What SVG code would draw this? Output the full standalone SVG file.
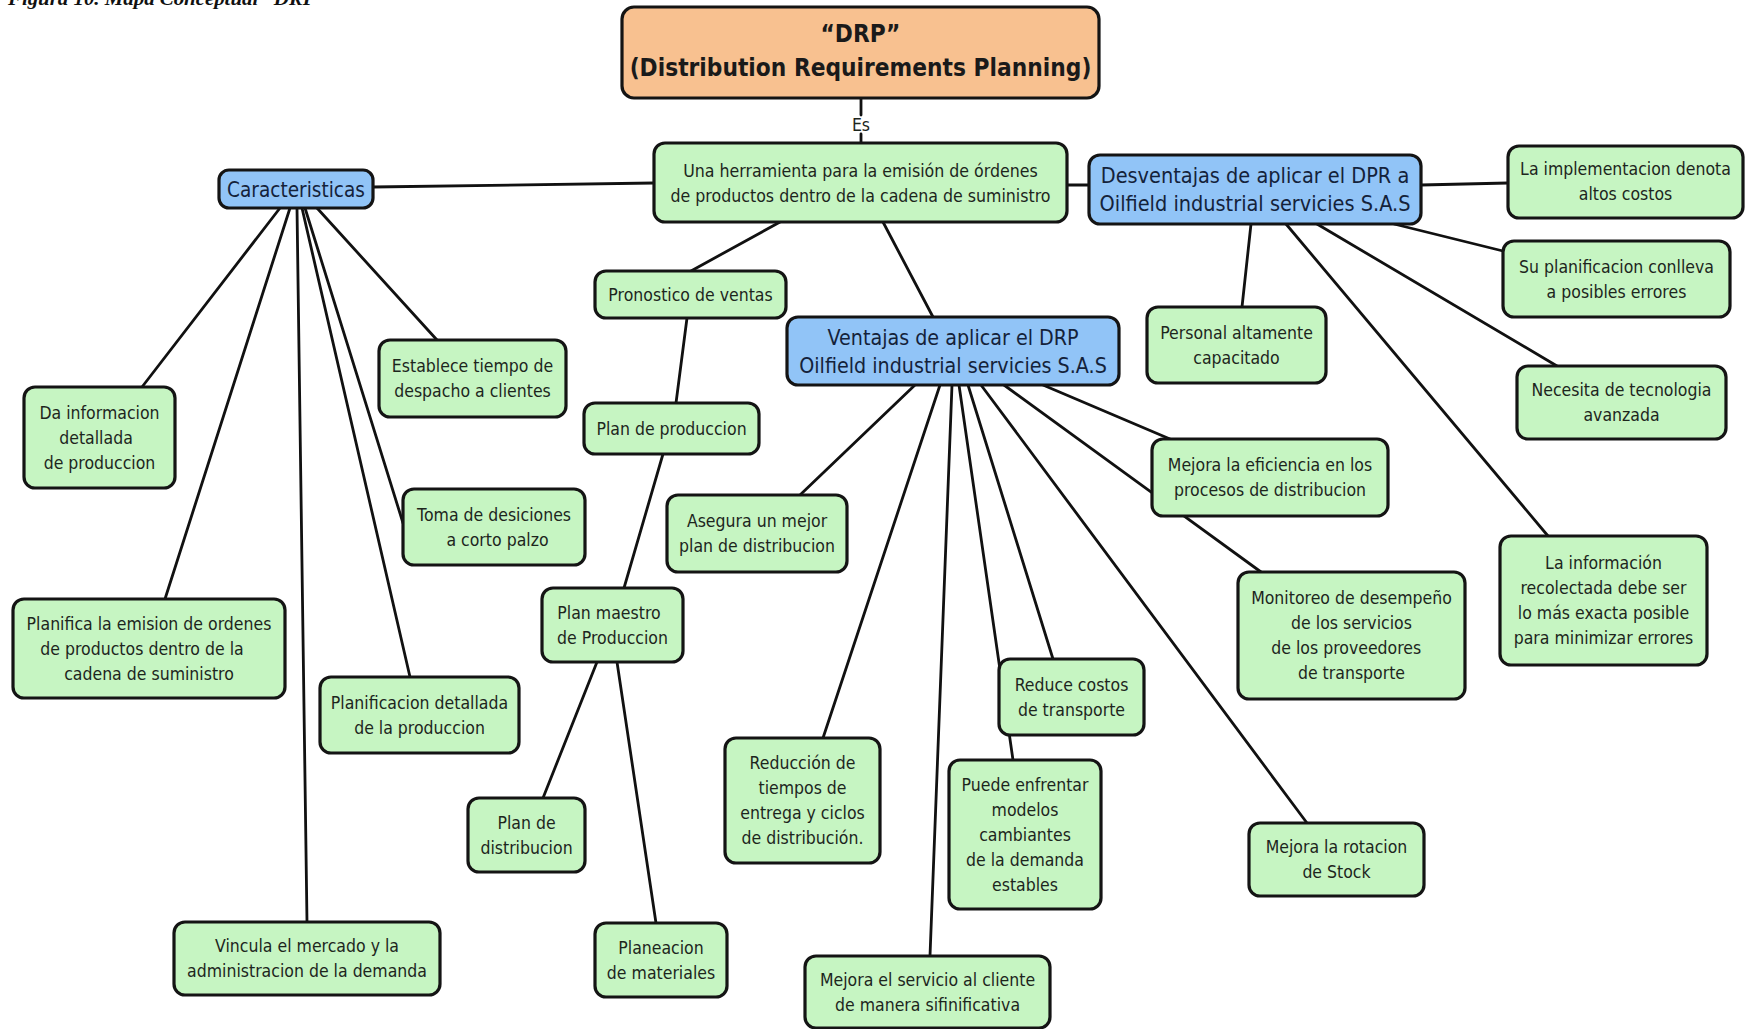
<svg xmlns="http://www.w3.org/2000/svg" width="1747" height="1029" viewBox="0 0 1747 1029">
  <style>
    .box { stroke: #141414; stroke-width: 3.2; }
    .g { fill: #c6f5c2; }
    .b { fill: #91c4f7; }
    .o { fill: #f8c190; }
    .t { font-family: "DejaVu Sans", "Liberation Sans", sans-serif; font-size: 18px; fill: #1d261d; text-anchor: middle; }
    .tb { font-size: 21.5px; fill: #14223a; }
    .title { font-family: "DejaVu Sans", "Liberation Sans", sans-serif; font-weight: bold; font-size: 25.5px; fill: #1a1a1a; text-anchor: middle; }
    .cap { font-family: "Liberation Serif", serif; font-weight: bold; font-style: italic; font-size: 19px; fill: #111; }
    #edges line { stroke: #111; stroke-width: 2.8; stroke-linecap: round; }
  </style>

  <!-- figure caption, clipped at the top edge -->
  <text class="cap" x="8" y="5" textLength="318" lengthAdjust="spacingAndGlyphs">Figura 10. Mapa Conceptual “DRP”</text>

  <g id="edges">
    <!-- DRP -> Una herramienta (label "Es") -->
    <line x1="861" y1="98" x2="861" y2="115"/>
    <line x1="861" y1="134" x2="861" y2="143"/>
    <line x1="373" y1="187" x2="654" y2="183"/>
    <line x1="1067" y1="185" x2="1089" y2="185"/>
    <line x1="780" y1="222" x2="691" y2="271"/>
    <line x1="883" y1="222" x2="933" y2="317"/>
    <!-- Desventajas -->
    <line x1="1421" y1="185" x2="1508" y2="183"/>
    <line x1="1394" y1="224" x2="1503" y2="251"/>
    <line x1="1251" y1="224" x2="1242" y2="307"/>
    <line x1="1286" y1="224" x2="1548" y2="536"/>
    <line x1="1317" y1="224" x2="1557" y2="366"/>
    <!-- production chain -->
    <line x1="687" y1="318" x2="676" y2="403"/>
    <line x1="663" y1="454" x2="624" y2="588"/>
    <line x1="597" y1="662" x2="543" y2="798"/>
    <line x1="617" y1="662" x2="656" y2="923"/>
    <!-- Caracteristicas -->
    <line x1="280" y1="208" x2="142" y2="387"/>
    <line x1="290" y1="208" x2="165" y2="599"/>
    <line x1="297" y1="208" x2="307" y2="922"/>
    <line x1="302" y1="208" x2="410" y2="677"/>
    <line x1="305" y1="208" x2="403" y2="523"/>
    <line x1="317" y1="208" x2="437" y2="340"/>
    <!-- Ventajas -->
    <line x1="915" y1="385" x2="800" y2="495"/>
    <line x1="940" y1="385" x2="823" y2="738"/>
    <line x1="952" y1="385" x2="930" y2="956"/>
    <line x1="959" y1="385" x2="1013" y2="760"/>
    <line x1="968" y1="385" x2="1053" y2="659"/>
    <line x1="981" y1="385" x2="1307" y2="823"/>
    <line x1="1004" y1="385" x2="1261" y2="572"/>
    <line x1="1043" y1="385" x2="1170" y2="439"/>
  </g>
  <text class="t" transform="translate(861 0) scale(0.875 1)"><tspan x="0" y="131">Es</tspan></text>

  <g id="n-drp">
    <rect class="box o" x="622" y="7" width="477" height="91" rx="12"/>
    <text class="title" transform="translate(860.5 0) scale(0.855 1)"><tspan x="0" y="42">“DRP”</tspan><tspan x="0" y="76">(Distribution Requirements Planning)</tspan></text>
  </g>
  <g id="n-herramienta">
    <rect class="box g" x="654" y="143" width="413" height="79" rx="11"/>
    <text class="t" transform="translate(860.5 0) scale(0.88 1)"><tspan x="0" y="177">Una herramienta para la emisión de órdenes</tspan><tspan x="0" y="202">de productos dentro de la cadena de suministro</tspan></text>
  </g>
  <g id="n-caracteristicas">
    <rect class="box b" x="219" y="170" width="154" height="38" rx="10"/>
    <text class="t tb" transform="translate(296 0) scale(0.86 1)"><tspan x="0" y="197">Caracteristicas</tspan></text>
  </g>
  <g id="n-desventajas">
    <rect class="box b" x="1089" y="155" width="332" height="69" rx="11"/>
    <text class="t tb" transform="translate(1255 0) scale(0.9 1)"><tspan x="0" y="183">Desventajas de aplicar el DPR a</tspan><tspan x="0" y="211">Oilfield industrial servicies S.A.S</tspan></text>
  </g>
  <g id="n-implementacion">
    <rect class="box g" x="1508" y="146" width="235" height="72" rx="11"/>
    <text class="t" transform="translate(1625.5 0) scale(0.875 1)"><tspan x="0" y="175.5">La implementacion denota</tspan><tspan x="0" y="200.5">altos costos</tspan></text>
  </g>
  <g id="n-planificacion-errores">
    <rect class="box g" x="1503" y="241" width="227" height="76" rx="11"/>
    <text class="t" transform="translate(1616.5 0) scale(0.875 1)"><tspan x="0" y="273">Su planificacion conlleva</tspan><tspan x="0" y="298">a posibles errores</tspan></text>
  </g>
  <g id="n-personal">
    <rect class="box g" x="1147" y="307" width="179" height="76" rx="11"/>
    <text class="t" transform="translate(1236.5 0) scale(0.875 1)"><tspan x="0" y="339">Personal altamente</tspan><tspan x="0" y="364">capacitado</tspan></text>
  </g>
  <g id="n-tecnologia">
    <rect class="box g" x="1517" y="366" width="209" height="73" rx="11"/>
    <text class="t" transform="translate(1621.5 0) scale(0.875 1)"><tspan x="0" y="396.5">Necesita de tecnologia</tspan><tspan x="0" y="421.5">avanzada</tspan></text>
  </g>
  <g id="n-informacion">
    <rect class="box g" x="1500" y="536" width="207" height="129" rx="11"/>
    <text class="t" transform="translate(1603.5 0) scale(0.875 1)"><tspan x="0" y="569.5">La información</tspan><tspan x="0" y="594.5">recolectada debe ser</tspan><tspan x="0" y="619.5">lo más exacta posible</tspan><tspan x="0" y="644.5">para minimizar errores</tspan></text>
  </g>
  <g id="n-ventajas">
    <rect class="box b" x="787" y="317" width="332" height="68" rx="11"/>
    <text class="t tb" transform="translate(953 0) scale(0.89 1)"><tspan x="0" y="345">Ventajas de aplicar el DRP</tspan><tspan x="0" y="373">Oilfield industrial servicies S.A.S</tspan></text>
  </g>
  <g id="n-pronostico">
    <rect class="box g" x="595" y="271" width="191" height="47" rx="11"/>
    <text class="t" transform="translate(690.5 0) scale(0.875 1)"><tspan x="0" y="301">Pronostico de ventas</tspan></text>
  </g>
  <g id="n-establece">
    <rect class="box g" x="379" y="340" width="187" height="77" rx="11"/>
    <text class="t" transform="translate(472.5 0) scale(0.875 1)"><tspan x="0" y="372.5">Establece tiempo de</tspan><tspan x="0" y="397.5">despacho a clientes</tspan></text>
  </g>
  <g id="n-da-informacion">
    <rect class="box g" x="24" y="387" width="151" height="101" rx="11"/>
    <text class="t" transform="translate(99.5 0) scale(0.875 1)"><tspan x="0" y="419">Da informacion</tspan><tspan x="-4" y="444">detallada</tspan><tspan x="0" y="469">de produccion</tspan></text>
  </g>
  <g id="n-plan-produccion">
    <rect class="box g" x="584" y="403" width="175" height="51" rx="11"/>
    <text class="t" transform="translate(671.5 0) scale(0.875 1)"><tspan x="0" y="435">Plan de produccion</tspan></text>
  </g>
  <g id="n-toma">
    <rect class="box g" x="403" y="489" width="182" height="76" rx="11"/>
    <text class="t" transform="translate(494 0) scale(0.875 1)"><tspan x="0" y="521">Toma de desiciones</tspan><tspan x="4" y="546">a corto palzo</tspan></text>
  </g>
  <g id="n-asegura">
    <rect class="box g" x="667" y="495" width="180" height="77" rx="11"/>
    <text class="t" transform="translate(757 0) scale(0.875 1)"><tspan x="0" y="527.5">Asegura un mejor</tspan><tspan x="0" y="552.5">plan de distribucion</tspan></text>
  </g>
  <g id="n-eficiencia">
    <rect class="box g" x="1152" y="439" width="236" height="77" rx="11"/>
    <text class="t" transform="translate(1270 0) scale(0.875 1)"><tspan x="0" y="471.5">Mejora la eficiencia en los</tspan><tspan x="0" y="496.5">procesos de distribucion</tspan></text>
  </g>
  <g id="n-monitoreo">
    <rect class="box g" x="1238" y="572" width="227" height="127" rx="11"/>
    <text class="t" transform="translate(1351.5 0) scale(0.875 1)"><tspan x="0" y="604.5">Monitoreo de desempeño</tspan><tspan x="0" y="629.5">de los servicios</tspan><tspan x="-6" y="654.5">de los proveedores</tspan><tspan x="0" y="679.5">de transporte</tspan></text>
  </g>
  <g id="n-planifica">
    <rect class="box g" x="13" y="599" width="272" height="99" rx="11"/>
    <text class="t" transform="translate(149 0) scale(0.875 1)"><tspan x="0" y="630">Planifica la emision de ordenes</tspan><tspan x="-8" y="655">de productos dentro de la</tspan><tspan x="0" y="680">cadena de suministro</tspan></text>
  </g>
  <g id="n-plan-maestro">
    <rect class="box g" x="542" y="588" width="141" height="74" rx="11"/>
    <text class="t" transform="translate(612.5 0) scale(0.875 1)"><tspan x="-4" y="619">Plan maestro</tspan><tspan x="0" y="644">de Produccion</tspan></text>
  </g>
  <g id="n-planificacion-detallada">
    <rect class="box g" x="320" y="677" width="199" height="76" rx="11"/>
    <text class="t" transform="translate(419.5 0) scale(0.875 1)"><tspan x="0" y="709">Planificacion detallada</tspan><tspan x="0" y="734">de la produccion</tspan></text>
  </g>
  <g id="n-reduce-costos">
    <rect class="box g" x="999" y="659" width="145" height="76" rx="11"/>
    <text class="t" transform="translate(1071.5 0) scale(0.875 1)"><tspan x="0" y="691">Reduce costos</tspan><tspan x="0" y="716">de transporte</tspan></text>
  </g>
  <g id="n-reduccion">
    <rect class="box g" x="725" y="738" width="155" height="125" rx="11"/>
    <text class="t" transform="translate(802.5 0) scale(0.875 1)"><tspan x="0" y="769.5">Reducción de</tspan><tspan x="0" y="794.5">tiempos de</tspan><tspan x="0" y="819.5">entrega y ciclos</tspan><tspan x="0" y="844.5">de distribución.</tspan></text>
  </g>
  <g id="n-puede">
    <rect class="box g" x="949" y="760" width="152" height="149" rx="11"/>
    <text class="t" transform="translate(1025 0) scale(0.875 1)"><tspan x="0" y="791">Puede enfrentar</tspan><tspan x="0" y="816">modelos</tspan><tspan x="0" y="841">cambiantes</tspan><tspan x="0" y="866">de la demanda</tspan><tspan x="0" y="891">estables</tspan></text>
  </g>
  <g id="n-plan-distribucion">
    <rect class="box g" x="468" y="798" width="117" height="74" rx="11"/>
    <text class="t" transform="translate(526.5 0) scale(0.875 1)"><tspan x="0" y="829">Plan de</tspan><tspan x="0" y="854">distribucion</tspan></text>
  </g>
  <g id="n-rotacion">
    <rect class="box g" x="1249" y="823" width="175" height="73" rx="11"/>
    <text class="t" transform="translate(1336.5 0) scale(0.875 1)"><tspan x="0" y="853.5">Mejora la rotacion</tspan><tspan x="0" y="878.5">de Stock</tspan></text>
  </g>
  <g id="n-vincula">
    <rect class="box g" x="174" y="922" width="266" height="73" rx="11"/>
    <text class="t" transform="translate(307 0) scale(0.875 1)"><tspan x="0" y="952.5">Vincula el mercado y la</tspan><tspan x="0" y="977.5">administracion de la demanda</tspan></text>
  </g>
  <g id="n-planeacion">
    <rect class="box g" x="595" y="923" width="132" height="74" rx="11"/>
    <text class="t" transform="translate(661 0) scale(0.875 1)"><tspan x="0" y="954">Planeacion</tspan><tspan x="0" y="979">de materiales</tspan></text>
  </g>
  <g id="n-servicio">
    <rect class="box g" x="805" y="956" width="245" height="72" rx="11"/>
    <text class="t" transform="translate(927.5 0) scale(0.875 1)"><tspan x="0" y="986">Mejora el servicio al cliente</tspan><tspan x="0" y="1011">de manera sifinificativa</tspan></text>
  </g>
</svg>
